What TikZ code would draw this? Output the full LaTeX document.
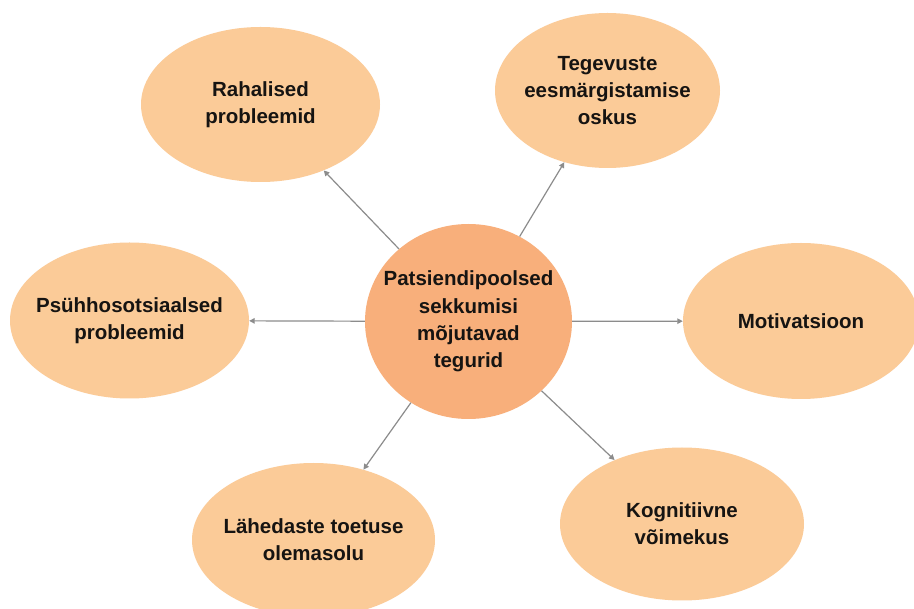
\documentclass[tikz,border=0pt]{standalone}
\usepackage{fontspec}
\setmainfont{Liberation Sans}
\usetikzlibrary{shapes.geometric,arrows.meta}
\definecolor{peach}{HTML}{FBCB98}
\definecolor{core}{HTML}{F8AF7B}
\definecolor{linkgray}{HTML}{8C8C8C}
\definecolor{ink}{HTML}{161412}
\tikzset{
  bubble/.style={ellipse, fill=peach, draw=none, inner sep=0pt},
  corebubble/.style={ellipse, fill=core, draw=none, inner sep=0pt},
  label/.style={align=center, text=ink, font=\fontsize{20.5}{27.3}\selectfont\bfseries, inner sep=0pt},
  link/.style={draw=linkgray, line width=1.2pt, -{Triangle[length=5.5pt,width=5.5pt]}}
}
\begin{document}
\begin{tikzpicture}[x=1pt,y=-1pt]
\useasboundingbox (0,0) rectangle (914,609);
\clip (0,0) rectangle (914,609);
\fill[white] (0,0) rectangle (914,609);
% bubbles
\node[corebubble, minimum width=207pt, minimum height=195pt] (c) at (468.5,321.5) {};
\node[bubble, minimum width=239pt, minimum height=155pt] (r) at (260.5,104.5) {};
\node[bubble, minimum width=225pt, minimum height=155pt] (t) at (607.5,90.5) {};
\node[bubble, minimum width=239pt, minimum height=156pt] (p) at (129.5,320.5) {};
\node[bubble, minimum width=236pt, minimum height=156pt] (m) at (801,321) {};
\node[bubble, minimum width=243pt, minimum height=154pt] (l) at (313.5,540) {};
\node[bubble, minimum width=244pt, minimum height=153pt] (k) at (682,524) {};
% texts
\node[label] (ct) at (c) {Patsiendipoolsed\\sekkumisi\\mõjutavad\\tegurid};
\node[label] (rt) at (r) {Rahalised\\probleemid};
\node[label] (tt) at (t) {Tegevuste\\eesmärgistamise\\oskus};
\node[label] (pt) at (p) {Psühhosotsiaalsed\\probleemid};
\node[label] (mt) at (m) {Motivatsioon};
\node[label] (lt) at (l) {Lähedaste toetuse\\olemasolu};
\node[label] (kt) at (k) {Kognitiivne\\võimekus};
% links
\draw[link] (c) -- (r);
\draw[link] (c) -- (t);
\draw[link] (c) -- (p);
\draw[link] (c) -- (m);
\draw[link] (c) -- (l);
\draw[link] (c) -- (k);
\end{tikzpicture}
\end{document}
